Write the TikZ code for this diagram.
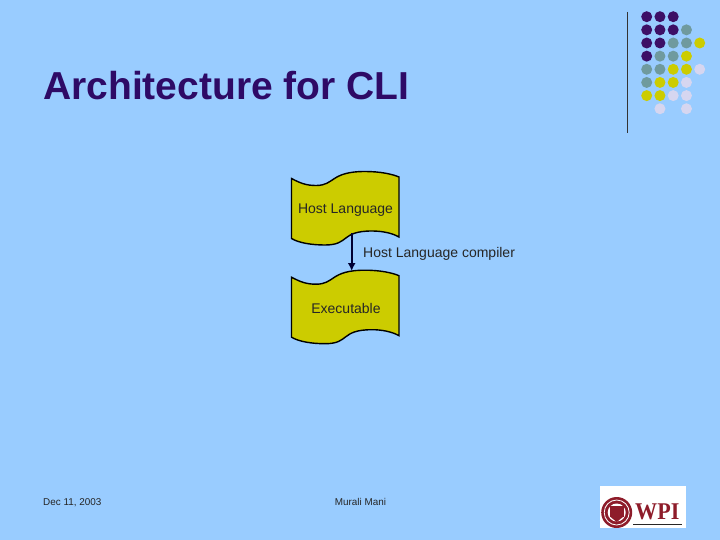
\documentclass[tikz,border=0pt]{standalone}
\usepackage{fontspec}
\usetikzlibrary{arrows.meta}
\setmainfont{Liberation Sans}
\newfontfamily\wpifont{Liberation Serif}
\definecolor{bgc}{HTML}{99CCFF}
\definecolor{dpur}{HTML}{3D0F66}
\definecolor{tpur}{HTML}{2E0A66}
\definecolor{dtea}{HTML}{6F9A9E}
\definecolor{dyel}{HTML}{CCCC00}
\definecolor{dlil}{HTML}{D6D6F0}
\definecolor{wred}{HTML}{8E1C2A}
\definecolor{anavy}{HTML}{000033}
\tikzset{
 px/.style={x=1pt,y=-1pt},
 wave/.style={fill=dyel,draw=black,line width=1.4pt},
 lab/.style={inner sep=0pt,anchor=base,font=\fontsize{14}{16}\selectfont,text=black!85},
 foot/.style={inner sep=0pt,anchor=base,font=\fontsize{9.9}{11}\selectfont,text=black!85},
}
\newcommand{\wavepath}[1]{%
 (291.5,178.5+#1) .. controls (300,183+#1) and (306,185.5+#1) .. (316,185.5+#1)
 .. controls (335,185.5+#1) and (330,171.5+#1) .. (365,171.5+#1)
 .. controls (380,171.5+#1) and (392,174+#1) .. (399,177+#1)
 -- (399,237+#1) .. controls (392,233+#1) and (382,231+#1) .. (372,231+#1)
 .. controls (340,231+#1) and (350,245+#1) .. (325,245+#1)
 .. controls (312,245+#1) and (299,243+#1) .. (291.5,238.5+#1) -- cycle}
\begin{document}
\begin{tikzpicture}[px]
\useasboundingbox (0,0) rectangle (720,540);
\fill[bgc] (0,0) rectangle (720,540);
\node[inner sep=0pt,anchor=base west,font=\bfseries\fontsize{39}{42}\selectfont,text=tpur] (title) at (43,100) {Architecture for CLI};
\coordinate (ruleA) at (627.5,12);
\coordinate (ruleB) at (627.5,133);
\draw[line width=1.2pt,black!80] (ruleA) -- (ruleB);
\foreach \c/\r/\col in {
 1/1/dpur,2/1/dpur,3/1/dpur,
 1/2/dpur,2/2/dpur,3/2/dpur,4/2/dtea,
 1/3/dpur,2/3/dpur,3/3/dtea,4/3/dtea,5/3/dyel,
 1/4/dpur,2/4/dtea,3/4/dtea,4/4/dyel,
 1/5/dtea,2/5/dtea,3/5/dyel,4/5/dyel,5/5/dlil,
 1/6/dtea,2/6/dyel,3/6/dyel,4/6/dlil,
 1/7/dyel,2/7/dyel,3/7/dlil,4/7/dlil,
 2/8/dlil,4/8/dlil}
 \fill[\col] ({646.7+(\c-1)*13.25},{16.7+(\r-1)*13.15}) circle (5.5);
\draw[wave] \wavepath{0};
\draw[wave] \wavepath{98.7};
\node[lab] (host) at (345.5,214) {Host Language};
\node[lab] (exe) at (346,313) {Executable};
\node[lab,anchor=base west] (comp) at (363,257) {Host Language compiler};
\coordinate (arrA) at (351.7,233);
\coordinate (arrB) at (351.7,271);
\draw[line width=2pt,anavy,-{Latex[length=8pt,width=8pt]}] (arrA) -- (arrB);
\node[foot,anchor=base west] (date) at (43,505) {Dec 11, 2003};
\node[foot] (auth) at (360.5,505) {Murali Mani};
\fill[white] (600,486) rectangle (686,528);
\fill[wred] (616.7,512.5) circle (15.5);
\draw[white,line width=0.8pt] (616.7,512.5) circle (12.5);
\fill[white] (616.7,512.5) circle (9);
\fill[wred] (610,506) rectangle (623.5,516.5);
\fill[wred] (610,516.5) -- (623.5,516.5) -- (616.7,522) -- cycle;
\node[inner sep=0pt,anchor=base west,xscale=0.92,text=wred,font=\wpifont\bfseries\fontsize{24}{26}\selectfont] (wpi) at (635,519) {WPI};
\draw[black!85,line width=1pt] (633,524) -- (682,524);
\end{tikzpicture}
\end{document}
